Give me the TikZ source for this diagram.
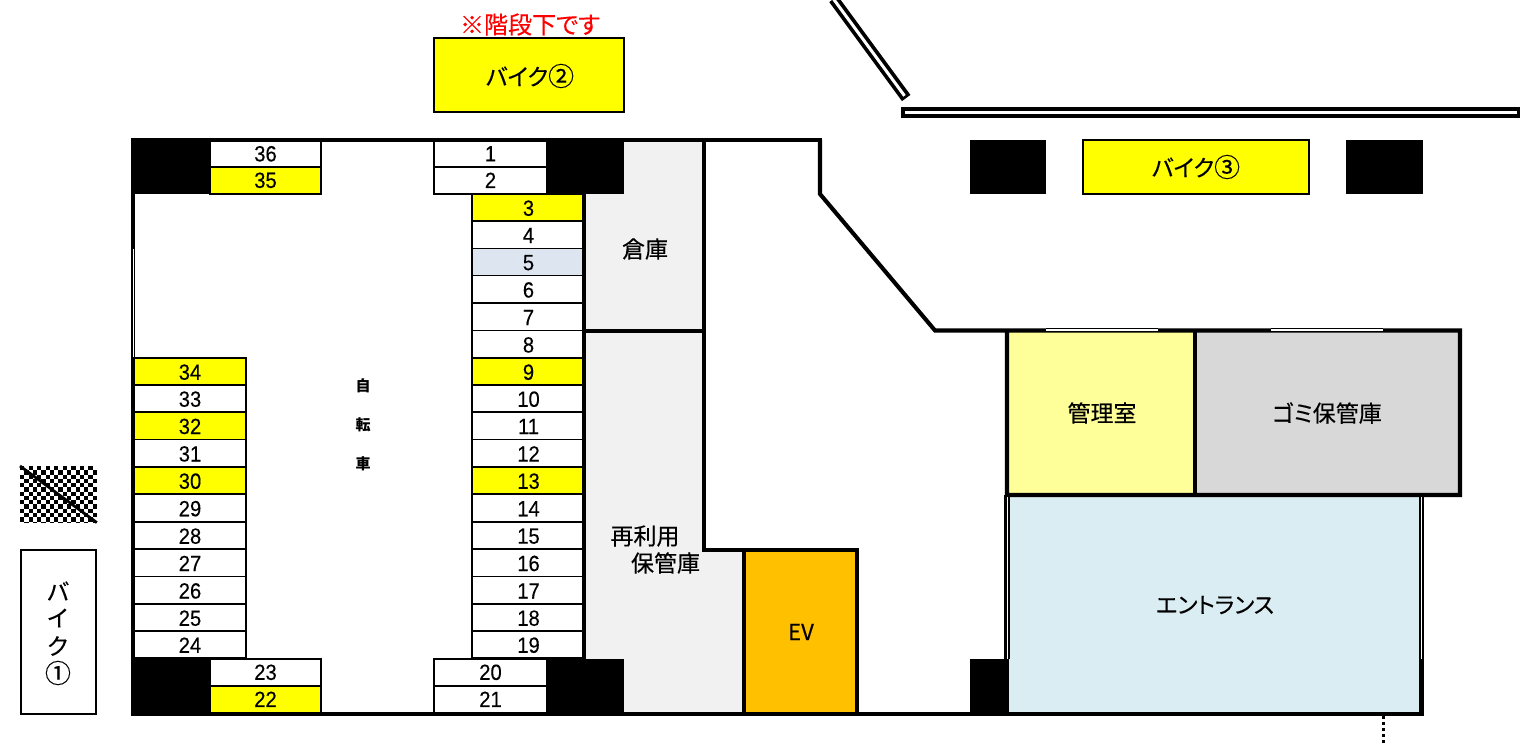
\documentclass[tikz,border=0pt]{standalone}
\usepackage{fontspec}
\setmainfont{Liberation Sans}
\newfontfamily\numf[FakeStretch=0.92,FakeBold=0.25]{Liberation Sans}
\newfontfamily\jp[FakeBold=0.3]{Noto Sans CJK JP}
\newfontfamily\jpp[RawFeature=+palt,FakeBold=0.3]{Noto Sans CJK JP}
\newfontfamily\jpr{Noto Sans CJK JP}
\newcommand{\fsz}[1]{\fontsize{#1}{#1}\selectfont}
\newcommand{\circd}[1]{{\fsz{26}\raisebox{-0.5pt}{#1}}}
\definecolor{bikey}{HTML}{FFFF00}
\definecolor{bluecell}{HTML}{DDE5F0}
\definecolor{store}{HTML}{F1F1F1}
\definecolor{office}{HTML}{FFFF99}
\definecolor{trash}{HTML}{D8D8D8}
\definecolor{entry}{HTML}{DAEDF3}
\definecolor{evc}{HTML}{FFC000}
\tikzset{
  x=1pt,y=-1pt,
  wall/.style={line width=4.1pt,line cap=butt,line join=miter,black},
  pillar/.style={fill=black,draw=none},
  cellbox/.style={draw=black,line width=1.9pt},
  txt/.style={inner sep=0pt,outer sep=0pt,font=\numf\fsz{22},text=black},
  jpt/.style={inner sep=0pt,outer sep=0pt,font=\jp\fsz{23},text=black},
  jpn/.style={inner sep=0pt,outer sep=0pt,font=\jpp\fsz{23},text=black},
  jpc/.style={inner sep=0pt,outer sep=0pt,font=\jpr\bfseries\fsz{15},text=black},
  bikebox/.style={draw=black,line width=2pt},
}
\begin{document}
\begin{tikzpicture}
\useasboundingbox (0,0) rectangle (1524,746);
\fill[white] (0,0) rectangle (1524,746);
% room fills
\fill[store] (585,141) rectangle (704,331);
\fill[store] (585,331) rectangle (704,550);
\fill[store] (585,550) rectangle (744,713);
\fill[office] (1007,331) rectangle (1195,495);
\fill[trash] (1195,331) rectangle (1460,495);
\fill[entry] (1006,495) rectangle (1421,713);
\fill[evc] (744,550) rectangle (857,713);
% right and left stall columns
\foreach \n/\a/\b/\c in {3/194/221/bikey,4/221/248.5/white,5/248.5/275.5/bluecell,6/275.5/303/white,7/303/330.5/white,8/330.5/358/white,9/358/385/bikey,10/385/412/white,11/412/439.5/white,12/439.5/467/white,13/467/494/bikey,14/494/522/white,15/522/549/white,16/549/576.5/white,17/576.5/604/white,18/604/631/white,19/631/658/white}{
  \draw[cellbox,fill=\c] (472.2,\a) rectangle (584,\b);
  \path (528.5,{(\a+\b)/2+0.7}) node[txt] (s\n) {\n};
}
\foreach \n/\a/\b/\c in {34/358/385/bikey,33/385/412/white,32/412/439.5/bikey,31/439.5/467/white,30/467/494/bikey,29/494/522/white,28/522/549/white,27/549/576.5/white,26/576.5/604/white,25/604/631/white,24/631/658/white}{
  \draw[cellbox,fill=\c] (133,\a) rectangle (246,\b);
  \path (190,{(\a+\b)/2+0.7}) node[txt] (s\n) {\n};
}
% corner stalls
\foreach \n/\xa/\xb/\a/\b/\c in {36/210/321/141/167/white,35/210/321/167/194/bikey,23/210/321/659/686/white,22/210/321/686/713/bikey,1/434/547/141/167/white,2/434/547/167/194/white,20/434/547/659/686/white,21/434/547/686/713/white}{
  \draw[cellbox,fill=\c] (\xa,\a) rectangle (\xb,\b);
  \path ({(\xa+\xb)/2},{(\a+\b)/2-0.2}) node[txt] (s\n) {\n};
}
% pillars
\fill[pillar] (131,141) rectangle (210,194.5);
\fill[pillar] (547,141) rectangle (624,194.5);
\fill[pillar] (131,659) rectangle (210,714);
\fill[pillar] (547,659) rectangle (624,714);
\fill[pillar] (970,659) rectangle (1006,714);
\fill[pillar] (970,140) rectangle (1046,194.5);
\fill[pillar] (1346,140) rectangle (1423,194.5);
% walls
\draw[wall] (131,140) -- (821.5,140);
\draw[wall] (133,140) -- (133,716);
\draw[wall] (131,714) -- (1423.5,714);
\draw[wall] (584,194) -- (584,659);
\draw[wall] (704,140) -- (704,550) -- (857,550) -- (857,714);
\draw[wall] (744,550) -- (744,714);
\draw[wall] (584,331) -- (704,331);
\draw[wall] (820,140) -- (820,194) -- (935,330.5) -- (1460,330.5) -- (1460,495) -- (1007,495) -- (1007,330.5);
\draw[wall] (1195,330.5) -- (1195,495);
\draw[wall] (1006.5,495) -- (1006.5,714);
\draw[wall] (1421.5,495) -- (1421.5,716);
% double-line (window) segments
\fill[white] (132.6,249) rectangle (134,357);
\draw[black,line width=1.3pt] (1046,328.6) -- (1158,328.6);
\draw[white,line width=1.6pt] (1046,330.2) -- (1158,330.2);
\draw[black,line width=1.3pt] (1271,328.6) -- (1383,328.6);
\draw[white,line width=1.6pt] (1271,330.2) -- (1383,330.2);
\fill[black] (1005,497) rectangle (1009.7,659);
\fill[white] (1006.6,497) rectangle (1008,659);
\fill[entry] (1008,497) rectangle (1010,659);
\fill[black] (1008,497) rectangle (1009.7,659);
\fill[black] (1419.3,497) rectangle (1423.6,659);
\fill[white] (1420.9,497) rectangle (1422.2,659);
% outer wall bars
\draw[black,line width=10.5pt,line cap=butt] (833.5,-1) -- (906.2,98);
\draw[white,line width=3pt,line cap=butt] (833.5,-1) -- (904.5,95.8);
\fill[black] (900.5,107.3) rectangle (1520,118.3);
\fill[white] (904.5,111) rectangle (1516.5,114.3);
% dotted lead
\draw[black,line width=3pt,dash pattern=on 3pt off 3pt] (1383.7,716) -- (1383.7,746);
% hatch block
\begin{scope}
\clip (20,466) rectangle (96.8,522.6);
\fill[white] (20,466) rectangle (96.8,522.6);
\foreach \i in {0,...,17}{\foreach \j in {0,...,13}{
  \pgfmathparse{int(mod(\i+\j,2))}
  \ifnum\pgfmathresult=0
    \fill[black] ({20+\i*4.27},{466+\j*4.27}) rectangle +(4.27,4.27);
  \fi
}}
\end{scope}
\coordinate (hatchA) at (20,466);
\coordinate (hatchB) at (96.8,522.6);
\draw[black,line width=2.8pt] (hatchA) -- (hatchB);
% bike boxes
\draw[bikebox,fill=bikey] (434,38) rectangle (624.2,112);
\draw[bikebox,fill=bikey] (1083,140) rectangle (1308.5,194);
\draw[bikebox,fill=white] (21,550) rectangle (96,713.7);
% labels
\node[jpn,font=\jpp\fsz{24},text=red] (note) at (530,24.5) {※階段下です};
\node[jpn] (bike2) at (530,76) {バイク\circd{②}};
\node[jpn] (bike3) at (1196,167) {バイク\circd{③}};
\node[jpt] (b1a) at (58,591) {バ};
\node[jpt] (b1b) at (58,618) {イ};
\node[jpt] (b1c) at (58,646) {ク};
\node[jpt] (b1d) at (58,673) {\circd{①}};
\node[jpc] (ca) at (363,386) {自};
\node[jpc] (cb) at (363,425) {転};
\node[jpc] (cc) at (363,464) {車};
\node[jpt] (souko) at (645,249) {倉庫};
\node[jpt] (sa) at (645,536) {再利用};
\node[jpt] (sb) at (665.5,563) {保管庫};
\node[jpt,font=\jp\fsz{22}] (ev) at (801,632) {EV};
\node[jpt] (kanri) at (1102,413) {管理室};
\node[jpn] (gomi) at (1327,413) {ゴミ保管庫};
\node[jpn,font=\jpp\fsz{22.5}] (ent) at (1215,605) {エントランス};
\end{tikzpicture}
\end{document}
